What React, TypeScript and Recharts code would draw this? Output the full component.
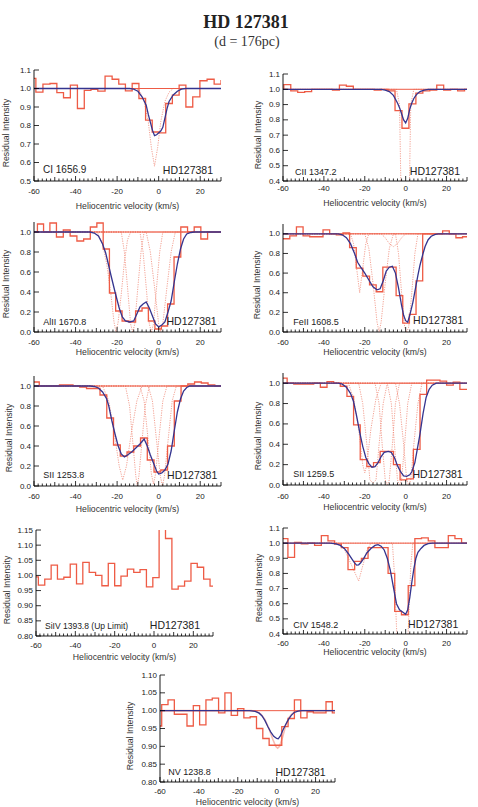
import React from 'react';
import { LineChart, Line, XAxis, YAxis } from 'recharts';

type Pt = [number, number];

// ---------- CI 1656.9 ----------
const ciVel = [-60.8, -57.4, -54.0, -50.6, -47.4, -44.2, -40.8, -37.4, -34.2, -31.0, -27.6, -24.0, -20.8, -17.6, -14.4, -11.1, -7.9, -4.7, -1.5, 1.8, 5.0, 8.2, 11.5, 14.7, 18.1, 21.6, 25.0, 28.4, 31.6];
const ciFlux = [1.055, 0.98, 1.024, 1.027, 0.978, 0.95, 1.018, 0.892, 0.99, 0.995, 0.986, 1.067, 1.05, 1.024, 0.987, 1.027, 0.946, 0.829, 0.765, 0.76, 0.919, 0.964, 1.018, 0.9, 0.955, 1.042, 1.05, 1.024, 1.042];
const ciFit: Pt[] = [[-60, 1], [-14, 1], [-12, 0.997], [-10, 0.985], [-8, 0.955], [-6, 0.91], [-5, 0.86], [-3, 0.775], [-2, 0.745], [-1, 0.75], [1, 0.77], [2, 0.79], [3, 0.84], [4, 0.89], [5, 0.93], [7, 0.965], [9, 0.985], [11, 0.997], [13, 1], [30, 1]];
const ciComp1: Pt[] = [[-60, 1], [-11, 1], [-9, 0.985], [-7, 0.93], [-5, 0.82], [-3.5, 0.68], [-2, 0.58], [-0.5, 0.68], [1, 0.82], [3, 0.93], [5, 0.98], [7, 1], [30, 1]];

// ---------- CII 1347.2 ----------
const ciiVel = [-61.3, -57.9, -54.5, -51.1, -47.7, -44.3, -40.9, -37.5, -34.1, -30.7, -27.3, -23.9, -20.5, -17.1, -13.7, -10.3, -6.9, -3.5, -0.1, 3.3, 6.7, 10.1, 13.5, 16.9, 20.3, 23.7, 27.1, 30.5];
const ciiFlux = [1.0, 1.03, 0.99, 0.98, 0.985, 1.0, 1.0, 1.0, 0.995, 1.027, 1.02, 1.0, 1.0, 1.0, 0.995, 1.0, 0.99, 0.86, 0.745, 0.905, 0.975, 0.99, 0.995, 1.027, 0.995, 1.0, 0.99, 1.0];
const ciiFit: Pt[] = [[-60, 1], [-12, 1], [-10, 0.995], [-8, 0.985], [-6, 0.96], [-4, 0.91], [-3, 0.88], [-2, 0.84], [-1, 0.8], [0, 0.78], [1, 0.81], [2, 0.87], [3, 0.91], [4, 0.94], [5, 0.96], [6, 0.975], [7, 0.985], [9, 0.995], [11, 1], [30, 1]];
const ciiComp1: Pt[] = [[-60, 1], [-4.5, 1], [-3, 0.9], [-2.5, 0.5], [-2, 0.1], [1.5, 0.1], [2, 0.5], [2.5, 0.9], [4, 1], [30, 1]];

// ---------- AlII 1670.8 ----------
const alVel = [-63.0, -59.8, -56.9, -53.9, -50.8, -47.6, -44.2, -41.0, -37.7, -34.5, -31.3, -28.2, -25.2, -22.2, -19.2, -16.0, -12.7, -9.5, -6.5, -3.4, -0.2, 2.8, 5.8, 9.0, 12.3, 15.5, 18.7, 21.9, 25.2, 28.4, 31.6];
const alFlux = [1.0, 1.0, 1.08, 1.0, 1.09, 0.95, 1.02, 0.96, 0.91, 0.93, 1.05, 1.09, 0.83, 0.39, 0.21, 0.11, 0.10, 0.21, 0.24, 0.11, 0.03, 0.06, 0.28, 0.75, 1.05, 1.0, 1.05, 0.93, 1.0, 1.0, 1.0];
const alFit: Pt[] = [[-60, 1], [-33, 1], [-31, 0.99], [-29, 0.96], [-27, 0.88], [-25.5, 0.79], [-24, 0.66], [-23, 0.57], [-21, 0.4], [-19, 0.24], [-17.5, 0.15], [-16, 0.11], [-14, 0.1], [-12, 0.11], [-10.5, 0.18], [-9, 0.25], [-7.5, 0.28], [-6, 0.3], [-4.5, 0.24], [-3, 0.16], [-1.5, 0.08], [0, 0.05], [1.5, 0.07], [3, 0.1], [4.5, 0.2], [6, 0.31], [7.5, 0.5], [9, 0.68], [10.5, 0.83], [12, 0.93], [13.5, 0.98], [15.5, 0.995], [17, 1], [30, 1]];
const alComp1: Pt[] = [[-60, 1], [-29.5, 1], [-27, 0.88], [-25, 0.68], [-23, 0.38], [-21.5, 0.1], [-20.5, 0], [-19.5, 0.1], [-18, 0.38], [-16.5, 0.7], [-15, 0.92], [-13.5, 1], [30, 1]];
const alComp2: Pt[] = [[-60, 1], [-18, 1], [-16.5, 0.8], [-15, 0.45], [-13.5, 0.08], [-12.5, 0], [-11.5, 0.08], [-10, 0.45], [-8.5, 0.8], [-7, 1], [30, 1]];
const alComp3: Pt[] = [[-60, 1], [-9, 1], [-7.5, 0.8], [-6, 0.45], [-4.5, 0.08], [-3.5, 0], [-2.5, 0.08], [-1, 0.45], [0.5, 0.8], [2, 1], [30, 1]];
const alComp4: Pt[] = [[-60, 1], [-6, 1], [-4, 0.8], [-2, 0.45], [0, 0.08], [1, 0], [2, 0.08], [4, 0.45], [6, 0.8], [8, 1], [30, 1]];

// ---------- FeII 1608.5 ----------
const feVel = [-61.55, -58.3, -55.05, -51.8, -48.55, -45.3, -42.05, -38.8, -35.55, -32.3, -29.05, -25.8, -22.55, -19.3, -16.05, -12.8, -9.55, -6.3, -3.05, 0.2, 3.45, 6.7, 9.95, 13.2, 16.45, 19.7, 22.95, 26.2, 29.45, 32.7];
const feFlux = [0.95, 0.95, 0.98, 1.07, 0.98, 0.97, 0.97, 1.04, 1.0, 0.99, 1.01, 0.86, 0.65, 0.57, 0.48, 0.41, 0.66, 0.66, 0.37, 0.09, 0.18, 0.52, 1.0, 1.0, 1.0, 1.03, 1.0, 0.96, 0.97, 0.98];
const feFit: Pt[] = [[-60, 1], [-33, 1], [-31, 0.99], [-29, 0.96], [-27, 0.9], [-25, 0.8], [-23.5, 0.71], [-22, 0.66], [-20, 0.6], [-18, 0.53], [-16, 0.46], [-14, 0.43], [-12.5, 0.44], [-11, 0.52], [-9.5, 0.62], [-8, 0.66], [-6.5, 0.67], [-5, 0.6], [-3.5, 0.45], [-2, 0.27], [-1, 0.17], [0, 0.115], [1, 0.1], [2, 0.17], [3.5, 0.3], [4.5, 0.41], [6, 0.58], [7, 0.68], [8.5, 0.8], [9.5, 0.87], [11, 0.94], [12.5, 0.975], [14.5, 0.995], [16, 1], [30, 1]];
const feComp1: Pt[] = [[-60, 1], [-27, 1], [-25.5, 0.9], [-24, 0.65], [-22.5, 0.4], [-21, 0.65], [-19.5, 0.9], [-18, 1], [30, 1]];
const feComp2: Pt[] = [[-60, 1], [-20, 1], [-18, 0.85], [-16, 0.5], [-14, 0.1], [-13, 0], [-12, 0.1], [-10, 0.5], [-8, 0.85], [-6, 1], [30, 1]];
const feComp3: Pt[] = [[-60, 1], [-12, 1], [-10, 0.96], [-8, 0.9], [-6, 0.87], [-4, 0.9], [-2, 0.96], [0, 1], [30, 1]];
const feComp4: Pt[] = [[-60, 1], [-5, 1], [-3.5, 0.8], [-2, 0.4], [-0.5, 0.05], [0.5, 0], [1.5, 0.05], [3, 0.4], [4.5, 0.8], [6, 1], [30, 1]];

// ---------- SII 1253.8 ----------
const s1Vel = [-62.35, -59.1, -55.85, -52.6, -49.35, -46.1, -42.85, -39.6, -36.35, -33.1, -29.85, -26.6, -23.35, -20.1, -16.85, -13.6, -10.35, -7.1, -3.85, -0.6, 2.65, 5.9, 9.15, 12.4, 15.65, 18.9, 22.15, 25.4, 28.65, 31.9];
const s1Flux = [1.04, 1.04, 1.0, 1.0, 1.0, 1.01, 1.01, 1.0, 0.99, 0.975, 0.975, 0.91, 0.68, 0.41, 0.30, 0.34, 0.40, 0.48, 0.26, 0.14, 0.16, 0.40, 0.85, 1.0, 1.02, 1.04, 1.03, 1.01, 1.0, 1.0];
const s1Fit: Pt[] = [[-60, 1], [-33, 1], [-31, 0.995], [-29, 0.98], [-27, 0.94], [-25, 0.87], [-24, 0.8], [-22.5, 0.65], [-21, 0.52], [-19.5, 0.4], [-18, 0.32], [-16.5, 0.29], [-15, 0.31], [-13, 0.34], [-11, 0.38], [-9, 0.42], [-7, 0.47], [-5.5, 0.4], [-4, 0.31], [-2.5, 0.23], [-1, 0.15], [0, 0.12], [1.5, 0.13], [3, 0.16], [4.5, 0.22], [6, 0.35], [7.5, 0.55], [9, 0.74], [10.5, 0.87], [12, 0.95], [13.5, 0.985], [15, 1], [30, 1]];
const s1Comp1: Pt[] = [[-60, 1], [-27, 1], [-24, 0.85], [-21.5, 0.55], [-19, 0.2], [-17.3, 0.06], [-15.5, 0.2], [-13, 0.55], [-10.5, 0.85], [-8, 1], [30, 1]];
const s1Comp2: Pt[] = [[-60, 1], [-16, 1], [-14, 0.8], [-12.5, 0.45], [-11, 0.1], [-10.3, 0], [-9.5, 0.1], [-8, 0.45], [-6.5, 0.8], [-4.5, 1], [30, 1]];
const s1Comp3: Pt[] = [[-60, 1], [-9, 1], [-7, 0.85], [-5, 0.45], [-3.5, 0.12], [-2.5, 0.02], [-1.5, 0.12], [0, 0.45], [2, 0.85], [4, 1], [30, 1]];
const s1Comp4: Pt[] = [[-60, 1], [-5, 1], [-3, 0.85], [-1, 0.45], [0.8, 0.1], [1.8, 0], [2.8, 0.1], [4.5, 0.45], [6.5, 0.85], [8.5, 1], [30, 1]];

// ---------- SII 1259.5 ----------
const s2Vel = [-62.85, -59.6, -56.35, -53.1, -49.85, -46.6, -43.35, -40.1, -36.85, -33.6, -30.35, -27.1, -23.85, -20.6, -17.35, -14.1, -10.85, -7.6, -4.35, -1.1, 2.15, 5.4, 8.65, 11.9, 15.15, 18.4, 21.65, 24.9, 28.15, 31.4];
const s2Flux = [1.05, 1.05, 1.0, 0.99, 0.99, 0.99, 1.0, 0.96, 1.015, 1.0, 0.97, 0.87, 0.59, 0.25, 0.18, 0.22, 0.33, 0.33, 0.20, 0.05, 0.06, 0.35, 0.89, 1.03, 1.03, 1.02, 0.98, 1.01, 0.94, 0.94];
const s2Fit: Pt[] = [[-60, 1], [-33, 1], [-31, 0.99], [-29, 0.96], [-27, 0.9], [-25.5, 0.82], [-24, 0.68], [-22.5, 0.52], [-21, 0.38], [-19.5, 0.27], [-18, 0.21], [-16.5, 0.175], [-15, 0.18], [-13.5, 0.22], [-12, 0.28], [-10.5, 0.32], [-8.5, 0.33], [-7, 0.32], [-5.5, 0.27], [-4, 0.19], [-2.5, 0.13], [-1, 0.09], [0.5, 0.085], [2, 0.1], [3, 0.13], [4.5, 0.22], [5.5, 0.33], [7, 0.5], [8.5, 0.7], [10, 0.86], [11.5, 0.94], [13, 0.98], [15, 1], [30, 1]];
const s2Comp1: Pt[] = [[-60, 1], [-28, 1], [-25.5, 0.85], [-23, 0.55], [-21, 0.2], [-20, 0.12], [-19, 0.2], [-17, 0.55], [-14.5, 0.85], [-12, 1], [30, 1]];
const s2Comp2: Pt[] = [[-60, 1], [-23, 1], [-21, 0.8], [-19, 0.4], [-17.5, 0.05], [-16, 0.02], [-14.5, 0.05], [-13, 0.4], [-11, 0.8], [-9, 1], [30, 1]];
const s2Comp3: Pt[] = [[-60, 1], [-15, 1], [-13, 0.8], [-11.5, 0.4], [-10, 0.05], [-9, 0], [-8, 0.05], [-6.5, 0.4], [-5, 0.8], [-3, 1], [30, 1]];
const s2Comp4: Pt[] = [[-60, 1], [-9, 1], [-7, 0.8], [-5.5, 0.4], [-4, 0.05], [-3, 0], [-2, 0.05], [-0.5, 0.4], [1, 0.8], [3, 1], [30, 1]];
const s2Comp5: Pt[] = [[-60, 1], [-5, 1], [-3, 0.8], [-1, 0.4], [0.5, 0.05], [1.5, 0], [2.5, 0.05], [4, 0.4], [6, 0.8], [8, 1], [30, 1]];

// ---------- SiIV 1393.8 ----------
const s4Vel = [-60.4, -57.2, -53.9, -50.7, -47.5, -44.2, -41.0, -37.8, -34.6, -31.3, -28.1, -24.9, -21.6, -18.4, -15.2, -11.9, -8.7, -5.5, -2.2, 1.0, 4.2, 7.5, 10.7, 13.9, 17.2, 20.4, 23.6, 26.9, 30.1, 33.3];
const s4Flux = [0.995, 0.968, 0.988, 1.034, 0.988, 0.994, 1.037, 0.972, 1.043, 1.01, 1.0, 0.966, 1.04, 0.966, 0.998, 1.021, 1.01, 1.019, 0.962, 0.993, 1.2, 1.122, 0.955, 0.965, 0.981, 1.04, 1.027, 0.988, 0.965, 0.965];

// ---------- CIV 1548.2 ----------
const c4Vel = [-62.5, -59.2, -56.0, -52.7, -49.4, -46.2, -42.9, -39.6, -36.4, -33.1, -29.8, -26.6, -23.3, -20.0, -16.8, -13.5, -10.2, -7.0, -3.7, -0.4, 2.9, 6.1, 9.4, 12.7, 15.9, 19.2, 22.5, 25.7, 29.0, 32.3];
const c4Flux = [1.03, 1.03, 0.906, 1.005, 0.996, 1.0, 0.985, 1.05, 1.015, 0.994, 0.97, 0.825, 0.88, 0.9, 0.97, 0.97, 0.97, 0.80, 0.55, 0.527, 0.72, 1.03, 1.035, 1.015, 0.97, 0.97, 1.05, 1.03, 1.0, 1.0];
const c4Fit: Pt[] = [[-60, 1], [-37, 1], [-34, 0.995], [-32, 0.985], [-30, 0.965], [-28, 0.93], [-26.5, 0.9], [-25, 0.87], [-24, 0.855], [-23, 0.857], [-22, 0.87], [-20.5, 0.9], [-19, 0.935], [-17, 0.965], [-15, 0.985], [-13.5, 0.99], [-12, 0.98], [-10.5, 0.955], [-9, 0.9], [-7.5, 0.82], [-6, 0.71], [-4.5, 0.6], [-3, 0.56], [-1.5, 0.545], [0, 0.53], [1, 0.56], [2, 0.64], [3, 0.74], [4, 0.83], [5, 0.9], [6, 0.94], [7.5, 0.965], [9, 0.985], [11, 0.997], [13, 1], [30, 1]];
const c4Comp1: Pt[] = [[-60, 1], [-33, 1], [-30, 0.96], [-27, 0.87], [-23, 0.75], [-21, 0.85], [-19, 0.95], [-17, 1], [30, 1]];
const c4Comp2: Pt[] = [[-60, 1], [-6.5, 1], [-5.5, 0.8], [-4.5, 0.45], [-3.5, 0.2], [-1, 0.05], [0.5, 0.2], [1.5, 0.5], [2.5, 0.85], [3.5, 1], [30, 1]];

// ---------- NV 1238.8 ----------
const nvVel = [-60.75, -57.5, -54.25, -51.0, -47.75, -44.5, -41.25, -38.0, -34.75, -31.5, -28.25, -25.0, -21.75, -18.5, -15.25, -12.0, -8.75, -5.5, -2.25, 1.0, 4.25, 7.5, 10.75, 14.0, 17.25, 20.5, 23.75, 27.0, 30.25, 33.5];
const nvFlux = [0.957, 1.017, 1.03, 0.99, 0.99, 0.957, 1.014, 0.96, 1.03, 1.035, 0.994, 1.05, 0.987, 1.006, 0.98, 0.983, 0.95, 0.922, 0.903, 0.903, 0.955, 0.978, 1.03, 0.98, 0.997, 0.994, 0.994, 1.025, 0.994, 0.994];
const nvFit: Pt[] = [[-60, 1], [-14, 1], [-11, 0.998], [-9, 0.993], [-7.5, 0.985], [-6, 0.972], [-4.5, 0.955], [-3, 0.94], [-1.5, 0.928], [0, 0.922], [0.8, 0.921], [2, 0.93], [3, 0.943], [4.5, 0.96], [6, 0.975], [7.5, 0.987], [9, 0.995], [11, 0.999], [13, 1], [30, 1]];
const nvComp1: Pt[] = [[-60, 1], [-13, 1], [-10, 0.997], [-8, 0.99], [-6, 0.975], [-4, 0.95], [-2, 0.92], [-0.5, 0.9], [0.5, 0.895], [1.5, 0.9], [3, 0.925], [4.5, 0.955], [6, 0.978], [8, 0.992], [10, 0.998], [12, 1], [30, 1]];

// continuum level shared by the fitted panels
const continuum: Pt[] = [[-60, 1], [30, 1]];

// ---------- ticks ----------
const xLabelTicks = [-60, -40, -20, 0, 20];
const yTicksCI = [0.5, 0.6, 0.7, 0.8, 0.9, 1.0, 1.1];
const yTicksCII = [0.4, 0.5, 0.6, 0.7, 0.8, 0.9, 1.0, 1.1];
const yTicksDeep = [0, 0.2, 0.4, 0.6, 0.8, 1.0];
const yTicksSiIV = [0.8, 0.85, 0.9, 0.95, 1.0, 1.05, 1.1, 1.15];
const yTicksNV = [0.8, 0.85, 0.9, 0.95, 1.0, 1.05, 1.1];

const FONT = '"Liberation Sans", Arial, Helvetica, sans-serif';
const HIST_COLOR = '#ee5b45';
const FIT_COLOR = '#34348f';
const COMP_COLOR = '#f08a78';

const histXY = (v: number[], f: number[]) => v.map((x, i) => ({ x, y: f[i] }));
const ptsXY = (p: Pt[]) => p.map(([x, y]) => ({ x, y }));

interface Spec {
  key: string;
  left: number; top: number; right: number; bottom: number;
  yDomain: [number, number];
  yTicks: number[];
  dec: number;
  vel: number[]; flux: number[];
  fit?: Pt[];
  comps: Pt[][];
  compSolid?: boolean;
  ion: string; ionSize: number; ionX: number; ionY: number;
  hdRight: number; hdY: number;
  yTitleX: number; xTitleY: number; tickY: number;
}

const specs: Spec[] = [
  { key: 'ci', left: 34, top: 70, right: 221, bottom: 181, yDomain: [0.5, 1.1], yTicks: yTicksCI, dec: 1, vel: ciVel, flux: ciFlux, fit: ciFit, comps: [ciComp1], ion: 'CI 1656.9', ionSize: 10, ionX: 43, ionY: 170, hdRight: 213, hdY: 170, yTitleX: 6, xTitleY: 205.5, tickY: 191 },
  { key: 'cii', left: 283, top: 74, right: 467, bottom: 181, yDomain: [0.4, 1.1], yTicks: yTicksCII, dec: 1, vel: ciiVel, flux: ciiFlux, fit: ciiFit, comps: [ciiComp1], ion: 'CII 1347.2', ionSize: 9, ionX: 295, ionY: 171.5, hdRight: 460, hdY: 171, yTitleX: 258, xTitleY: 203.3, tickY: 188.3 },
  { key: 'al', left: 34, top: 222, right: 221, bottom: 332, yDomain: [0, 1.1], yTicks: yTicksDeep, dec: 1, vel: alVel, flux: alFlux, fit: alFit, comps: [alComp1, alComp2, alComp3, alComp4], ion: 'AlII 1670.8', ionSize: 9, ionX: 43.3, ionY: 322.3, hdRight: 216.7, hdY: 321, yTitleX: 6, xTitleY: 351.7, tickY: 342.7 },
  { key: 'fe', left: 283, top: 224, right: 467, bottom: 332, yDomain: [0, 1.1], yTicks: yTicksDeep, dec: 1, vel: feVel, flux: feFlux, fit: feFit, comps: [feComp1, feComp2, feComp3, feComp4], ion: 'FeII 1608.5', ionSize: 9, ionX: 293.3, ionY: 322.3, hdRight: 463.3, hdY: 320, yTitleX: 257.3, xTitleY: 352, tickY: 342.7 },
  { key: 's1', left: 34, top: 376, right: 221, bottom: 486, yDomain: [0, 1.1], yTicks: yTicksDeep, dec: 1, vel: s1Vel, flux: s1Flux, fit: s1Fit, comps: [s1Comp1, s1Comp2, s1Comp3, s1Comp4], ion: 'SII 1253.8', ionSize: 9, ionX: 43.3, ionY: 475, hdRight: 217.3, hdY: 475, yTitleX: 9.3, xTitleY: 509, tickY: 496.7 },
  { key: 's2', left: 283, top: 373, right: 467, bottom: 485, yDomain: [0, 1.1], yTicks: yTicksDeep, dec: 1, vel: s2Vel, flux: s2Flux, fit: s2Fit, comps: [s2Comp1, s2Comp2, s2Comp3, s2Comp4, s2Comp5], ion: 'SII 1259.5', ionSize: 9, ionX: 293.3, ionY: 474.3, hdRight: 462.7, hdY: 474.3, yTitleX: 258.3, xTitleY: 506.7, tickY: 496 },
  { key: 's4', left: 36, top: 530, right: 213, bottom: 636, yDomain: [0.8, 1.15], yTicks: yTicksSiIV, dec: 2, vel: s4Vel, flux: s4Flux, comps: [], ion: 'SiIV 1393.8 (Up Limit)', ionSize: 8.5, ionX: 45, ionY: 626, hdRight: 200, hdY: 625, yTitleX: 7.3, xTitleY: 656.7, tickY: 645.7 },
  { key: 'c4', left: 283, top: 528, right: 467, bottom: 634, yDomain: [0.4, 1.1], yTicks: yTicksCII, dec: 1, vel: c4Vel, flux: c4Flux, fit: c4Fit, comps: [c4Comp1, c4Comp2], ion: 'CIV 1548.2', ionSize: 9, ionX: 293.3, ionY: 625, hdRight: 458.3, hdY: 624.3, yTitleX: 259.3, xTitleY: 651.7, tickY: 643 },
  { key: 'nv', left: 160, top: 675, right: 335, bottom: 782, yDomain: [0.8, 1.1], yTicks: yTicksNV, dec: 2, vel: nvVel, flux: nvFlux, fit: nvFit, comps: [nvComp1], compSolid: true, ion: 'NV 1238.8', ionSize: 9, ionX: 168.3, ionY: 771.7, hdRight: 325.7, hdY: 771.7, yTitleX: 130, xTitleY: 801.7, tickY: 791.7 },
];

const xMinorTicks: number[] = [];
for (let v = -60; v <= 30; v += 2) xMinorTicks.push(v);

function Panel({ s }: { s: Spec }) {
  const ML = 40, MT = 8, MR = 8, MB = 18;
  const PW = s.right - s.left;
  const PH = s.bottom - s.top;
  const W = PW + ML + MR;
  const H = PH + MT + MB;
  const plotL = ML, plotR = ML + PW, plotT = MT, plotB = MT + PH;
  const tickDy = s.tickY - s.bottom;

  const xLen = (v: number) => (v % 20 === 0 ? 5 : v % 10 === 0 ? 4 : 2.5);

  const bottomTick = (props: any) => {
    const c = props.payload?.coordinate ?? props.x;
    const v = props.payload?.value;
    return (
      <g>
        <line x1={c} x2={c} y1={plotB} y2={plotB - xLen(v)} stroke="#000" strokeWidth={0.8} />
        {xLabelTicks.includes(v) && (
          <text x={c} y={plotB + tickDy} textAnchor="middle" dominantBaseline="central" fontSize={8} fontFamily={FONT} fill="#222">{v}</text>
        )}
      </g>
    );
  };
  const topTick = (props: any) => {
    const c = props.payload?.coordinate ?? props.x;
    const v = props.payload?.value;
    return <line x1={c} x2={c} y1={plotT} y2={plotT + xLen(v)} stroke="#000" strokeWidth={0.8} />;
  };
  const leftTick = (props: any) => {
    const c = props.payload?.coordinate ?? props.y;
    const v = props.payload?.value;
    return (
      <g>
        <line x1={plotL} x2={plotL + 5} y1={c} y2={c} stroke="#000" strokeWidth={0.8} />
        <text x={plotL - 3} y={c} textAnchor="end" dominantBaseline="central" fontSize={8} fontFamily={FONT} fill="#222">{Number(v).toFixed(s.dec)}</text>
      </g>
    );
  };
  const rightTick = (props: any) => {
    const c = props.payload?.coordinate ?? props.y;
    return <line x1={plotR} x2={plotR - 5} y1={c} y2={c} stroke="#000" strokeWidth={0.8} />;
  };

  return (
    <>
      <div style={{ position: 'absolute', left: s.left - ML, top: s.top - MT, width: W, height: H }}>
        <LineChart width={W} height={H} margin={{ top: MT, right: MR, bottom: 0, left: 0 }}>
          <XAxis xAxisId="b" type="number" dataKey="x" domain={[-60, 30]} allowDataOverflow ticks={xMinorTicks} interval={0} height={MB} tickLine={false} axisLine={{ stroke: '#000', strokeWidth: 0.9 }} tick={bottomTick} />
          <XAxis xAxisId="t" orientation="top" type="number" dataKey="x" domain={[-60, 30]} allowDataOverflow ticks={xMinorTicks} interval={0} height={0} tickLine={false} axisLine={{ stroke: '#000', strokeWidth: 0.9 }} tick={topTick} />
          <YAxis yAxisId="l" type="number" domain={s.yDomain} allowDataOverflow ticks={s.yTicks} interval={0} width={ML} tickLine={false} axisLine={{ stroke: '#000', strokeWidth: 0.9 }} tick={leftTick} />
          <YAxis yAxisId="r" orientation="right" type="number" domain={s.yDomain} allowDataOverflow ticks={s.yTicks} interval={0} width={0} tickLine={false} axisLine={{ stroke: '#000', strokeWidth: 0.9 }} tick={rightTick} />
          {s.comps.map((c, i) => (
            <Line key={'c' + i} xAxisId="b" yAxisId="l" data={ptsXY(c)} dataKey="y" type="linear"
              stroke={s.compSolid ? '#f7bcb2' : COMP_COLOR} strokeWidth={s.compSolid ? 1.6 : 0.8}
              strokeDasharray={s.compSolid ? undefined : '1.2 1.2'} dot={false} activeDot={false} isAnimationActive={false} />
          ))}
          {s.fit && (
            <Line xAxisId="b" yAxisId="l" data={ptsXY(continuum)} dataKey="y" type="linear" stroke={HIST_COLOR} strokeWidth={1} dot={false} activeDot={false} isAnimationActive={false} />
          )}
          <Line xAxisId="b" yAxisId="l" data={histXY(s.vel, s.flux)} dataKey="y" type="step" stroke={HIST_COLOR} strokeWidth={1.3} dot={false} activeDot={false} isAnimationActive={false} />
          {s.fit && (
            <Line xAxisId="b" yAxisId="l" data={ptsXY(s.fit)} dataKey="y" type="linear" stroke={FIT_COLOR} strokeWidth={1.3} dot={false} activeDot={false} isAnimationActive={false} />
          )}
        </LineChart>
      </div>
      <div style={{ position: 'absolute', left: s.ionX, top: s.ionY - 7, height: 14, lineHeight: '14px', fontSize: s.ionSize, whiteSpace: 'nowrap', color: '#222' }}>{s.ion}</div>
      <div style={{ position: 'absolute', left: s.hdRight - 120, width: 120, textAlign: 'right', top: s.hdY - 7, height: 14, lineHeight: '14px', fontSize: 10.5, whiteSpace: 'nowrap', color: '#222' }}>HD127381</div>
      <div style={{ position: 'absolute', left: (s.left + s.right) / 2 - 100, width: 200, textAlign: 'center', top: s.xTitleY - 6, height: 12, lineHeight: '12px', fontSize: 8.7, whiteSpace: 'nowrap', color: '#333' }}>Heliocentric velocity (km/s)</div>
      <div style={{ position: 'absolute', left: s.yTitleX - 60, width: 120, textAlign: 'center', top: (s.top + s.bottom) / 2 + 7 - 6, height: 12, lineHeight: '12px', fontSize: 8.7, whiteSpace: 'nowrap', color: '#333', transform: 'rotate(-90deg)', transformOrigin: '50% 50%' }}>Residual Intensity</div>
    </>
  );
}

export default function App() {
  return (
    <div style={{ position: 'absolute', left: 0, top: 0, width: 478, height: 807, background: '#fff', overflow: 'hidden', fontFamily: FONT }}>
      <div style={{ position: 'absolute', left: 146, width: 200, top: 10, height: 24, lineHeight: '24px', textAlign: 'center', fontFamily: '"Liberation Serif", "Times New Roman", serif', fontWeight: 'bold', fontSize: 18, color: '#222' }}>HD 127381</div>
      <div style={{ position: 'absolute', left: 147, width: 200, top: 32, height: 20, lineHeight: '20px', textAlign: 'center', fontFamily: '"Liberation Serif", "Times New Roman", serif', fontSize: 14, color: '#333' }}>(d = 176pc)</div>
      {specs.map((s) => <Panel key={s.key} s={s} />)}
    </div>
  );
}
